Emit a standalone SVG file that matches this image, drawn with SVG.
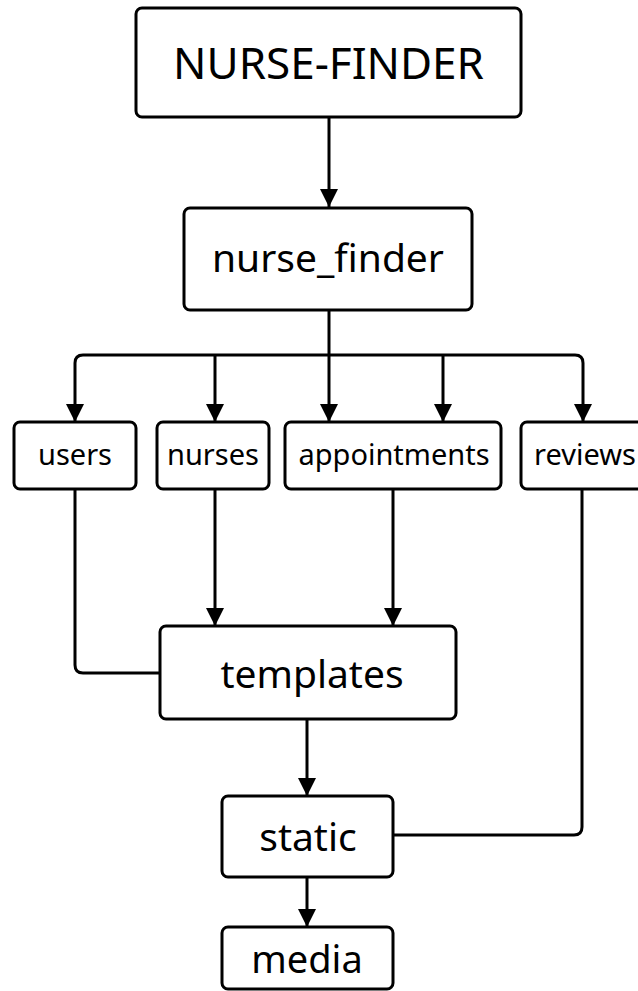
<svg xmlns="http://www.w3.org/2000/svg" width="638" height="991" viewBox="0 0 638 991">
<defs>
<marker id="arr" markerUnits="userSpaceOnUse" markerWidth="20" markerHeight="20" refX="18" refY="9" orient="auto">
<path d="M0,0 L18,9 L0,18 z" fill="#000"/>
</marker>
<style>
.box{fill:#fff;stroke:#000;stroke-width:3}
.t{font-family:"Noto Sans","Open Sans","DejaVu Sans",sans-serif;fill:#000;text-anchor:middle}
.big{font-size:44px}
.mid{font-size:39px}
.md2{font-size:38px}
.sm{font-size:29px}
.c{fill:none;stroke:#000;stroke-width:3}
.a{marker-end:url(#arr)}
</style>
</defs>
<rect width="638" height="991" fill="#fff"/>
<g id="connectors">
<path class="c a" d="M329 117 V207"/>
<path class="c a" d="M329 310 V422"/>
<path class="c a" d="M329 355 H83 Q75 355 75 363 V422"/>
<path class="c a" d="M329 355 H575 Q583 355 583 363 V422"/>
<path class="c a" d="M215 355 V422"/>
<path class="c a" d="M443 355 V422"/>
<path class="c" d="M75 489 V665 Q75 673 83 673 H160"/>
<path class="c a" d="M215 489 V626"/>
<path class="c a" d="M393 489 V626"/>
<path class="c" d="M582 489 V827 Q582 835 574 835 H393"/>
<path class="c a" d="M307 719 V796"/>
<path class="c a" d="M307 877 V927"/>
</g>
<g id="node-nurse-finder-root">
<rect class="box" x="136" y="8" width="385" height="109" rx="6"/>
<text class="t big" x="328.5" y="79">NURSE-FINDER</text>
</g>
<g id="node-nurse_finder">
<rect class="box" x="184" y="208" width="288" height="102" rx="6"/>
<text class="t mid" x="328" y="272">nurse_finder</text>
</g>
<g id="node-users">
<rect class="box" x="14" y="422" width="122" height="67" rx="6"/>
<text class="t sm" x="75" y="465">users</text>
</g>
<g id="node-nurses">
<rect class="box" x="157" y="422" width="112" height="67" rx="6"/>
<text class="t sm" x="213" y="465">nurses</text>
</g>
<g id="node-appointments">
<rect class="box" x="285" y="422" width="216" height="67" rx="6"/>
<text class="t sm" x="394" y="465">appointments</text>
</g>
<g id="node-reviews">
<rect class="box" x="521" y="422" width="140" height="67" rx="6"/>
<text class="t sm" x="585" y="465">reviews</text>
</g>
<g id="node-templates">
<rect class="box" x="160" y="626" width="296" height="93" rx="6"/>
<text class="t mid" x="312" y="688">templates</text>
</g>
<g id="node-static">
<rect class="box" x="222" y="796" width="171" height="81" rx="6"/>
<text class="t mid" x="308" y="851">static</text>
</g>
<g id="node-media">
<rect class="box" x="222" y="927" width="171" height="62" rx="6"/>
<text class="t md2" x="307" y="973">media</text>
</g>
</svg>
